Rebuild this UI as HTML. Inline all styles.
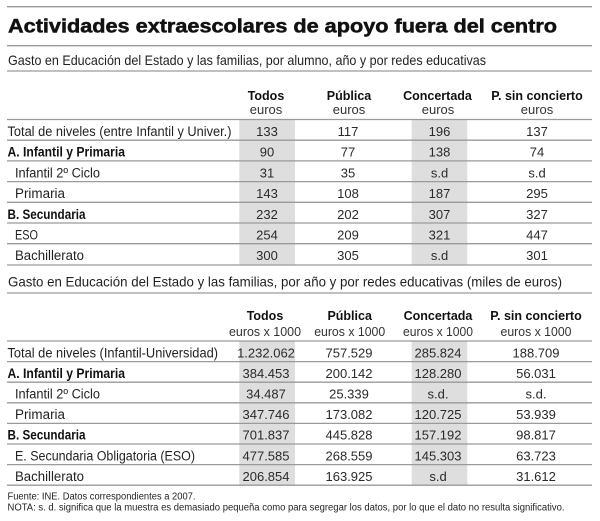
<!DOCTYPE html>
<html>
<head>
<meta charset="utf-8">
<style>
  html, body { margin: 0; padding: 0; background: #ffffff; }
  svg { display: block; }
  text { font-family: "Liberation Sans", "DejaVu Sans", sans-serif; fill: #231f20; }
  .title { font-size: 19px; font-weight: bold; fill: #111; stroke: #111; stroke-width: 0.5px; }
  .sub { font-size: 14px; }
  .hdr { font-size: 12.5px; font-weight: bold; text-anchor: middle; fill: #111; }
  .unit { font-size: 13px; text-anchor: middle; fill: #333; }
  .lab { font-size: 13.5px; }
  .labb { font-size: 13.5px; font-weight: bold; fill: #111; }
  .num { font-size: 13px; text-anchor: middle; fill: #2a2a2a; }
  .foot { font-size: 10px; }
  .ln { stroke: #9a9a9a; stroke-width: 1.3; }
  .shade { fill: #dedede; }
</style>
</head>
<body>
<svg width="600" height="521" viewBox="0 0 600 521" xmlns="http://www.w3.org/2000/svg">
  <rect width="600" height="521" fill="#fff"/>

  <!-- Title -->
  <line class="ln" x1="7" y1="6.7" x2="592" y2="6.7"/>
  <text class="title" x="8" y="32.5" textLength="549" lengthAdjust="spacingAndGlyphs">Actividades extraescolares de apoyo fuera del centro</text>
  <line class="ln" x1="7" y1="45.7" x2="592" y2="45.7"/>
  <text class="sub" x="8" y="65" textLength="478" lengthAdjust="spacingAndGlyphs">Gasto en Educación del Estado y las familias, por alumno, año y por redes educativas</text>
  <line class="ln" x1="7" y1="71" x2="592" y2="71"/>

  <!-- Table 1 header -->
  <text class="hdr" x="266" y="100">Todos</text>
  <text class="hdr" x="349" y="100">Pública</text>
  <text class="hdr" x="437.5" y="100">Concertada</text>
  <text class="hdr" x="537" y="100">P. sin concierto</text>
  <text class="unit" x="266" y="114">euros</text>
  <text class="unit" x="349" y="114">euros</text>
  <text class="unit" x="438" y="114">euros</text>
  <text class="unit" x="537" y="114">euros</text>

  <!-- Table 1 shading -->
  <rect class="shade" x="239.3" y="119.5" width="55.7" height="145"/>
  <rect class="shade" x="411.7" y="119.5" width="55.6" height="145"/>

  <!-- Table 1 lines -->
  <line class="ln" x1="7" y1="119.5" x2="592" y2="119.5"/>
  <line class="ln" x1="7" y1="140.2" x2="592" y2="140.2"/>
  <line class="ln" x1="7" y1="160.9" x2="592" y2="160.9"/>
  <line class="ln" x1="7" y1="181.6" x2="592" y2="181.6"/>
  <line class="ln" x1="7" y1="202.3" x2="592" y2="202.3"/>
  <line class="ln" x1="7" y1="223" x2="592" y2="223"/>
  <line class="ln" x1="7" y1="243.7" x2="592" y2="243.7"/>
  <line class="ln" x1="7" y1="265" x2="592" y2="265"/>

  <!-- Table 1 rows -->
  <text class="lab" x="7.5" y="136" textLength="224" lengthAdjust="spacingAndGlyphs">Total de niveles (entre Infantil y Univer.)</text>
  <text class="num" x="267" y="136">133</text><text class="num" x="348" y="136">117</text><text class="num" x="439.5" y="136">196</text><text class="num" x="537" y="136">137</text>

  <text class="labb" x="7.5" y="156.7" textLength="117.5" lengthAdjust="spacingAndGlyphs">A. Infantil y Primaria</text>
  <text class="num" x="267" y="156.7">90</text><text class="num" x="348" y="156.7">77</text><text class="num" x="439.5" y="156.7">138</text><text class="num" x="537" y="156.7">74</text>

  <text class="lab" x="15" y="177.4" textLength="85" lengthAdjust="spacingAndGlyphs">Infantil 2º Ciclo</text>
  <text class="num" x="267" y="177.4">31</text><text class="num" x="348" y="177.4">35</text><text class="num" x="439.5" y="177.4">s.d</text><text class="num" x="537" y="177.4">s.d</text>

  <text class="lab" x="15" y="198.1" textLength="50" lengthAdjust="spacingAndGlyphs">Primaria</text>
  <text class="num" x="267" y="198.1">143</text><text class="num" x="348" y="198.1">108</text><text class="num" x="439.5" y="198.1">187</text><text class="num" x="537" y="198.1">295</text>

  <text class="labb" x="7.5" y="218.8" textLength="78" lengthAdjust="spacingAndGlyphs">B. Secundaria</text>
  <text class="num" x="267" y="218.8">232</text><text class="num" x="348" y="218.8">202</text><text class="num" x="439.5" y="218.8">307</text><text class="num" x="537" y="218.8">327</text>

  <text class="lab" x="15" y="239.5" textLength="23" lengthAdjust="spacingAndGlyphs">ESO</text>
  <text class="num" x="267" y="239.5">254</text><text class="num" x="348" y="239.5">209</text><text class="num" x="439.5" y="239.5">321</text><text class="num" x="537" y="239.5">447</text>

  <text class="lab" x="15" y="260.2" textLength="69" lengthAdjust="spacingAndGlyphs">Bachillerato</text>
  <text class="num" x="267" y="260.2">300</text><text class="num" x="348" y="260.2">305</text><text class="num" x="439.5" y="260.2">s.d</text><text class="num" x="537" y="260.2">301</text>

  <!-- Subtitle 2 -->
  <text class="sub" x="8" y="286.5" textLength="554" lengthAdjust="spacingAndGlyphs">Gasto en Educación del Estado y las familias, por año y por redes educativas (miles de euros)</text>
  <line class="ln" x1="7" y1="293" x2="592" y2="293"/>

  <!-- Table 2 header -->
  <text class="hdr" x="265" y="320">Todos</text>
  <text class="hdr" x="349.7" y="320">Pública</text>
  <text class="hdr" x="438" y="320">Concertada</text>
  <text class="hdr" x="536" y="320">P. sin concierto</text>
  <text class="unit" x="265" y="336" textLength="72" lengthAdjust="spacingAndGlyphs">euros x 1000</text>
  <text class="unit" x="349.7" y="336" textLength="71" lengthAdjust="spacingAndGlyphs">euros x 1000</text>
  <text class="unit" x="438" y="336" textLength="70" lengthAdjust="spacingAndGlyphs">euros x 1000</text>
  <text class="unit" x="536" y="336" textLength="71" lengthAdjust="spacingAndGlyphs">euros x 1000</text>

  <!-- Table 2 shading -->
  <rect class="shade" x="239.3" y="341" width="55.7" height="144.2"/>
  <rect class="shade" x="411.7" y="341" width="55.6" height="144.2"/>

  <!-- Table 2 lines -->
  <line class="ln" x1="7" y1="341" x2="592" y2="341"/>
  <line class="ln" x1="7" y1="361.6" x2="592" y2="361.6"/>
  <line class="ln" x1="7" y1="382.2" x2="592" y2="382.2"/>
  <line class="ln" x1="7" y1="402.8" x2="592" y2="402.8"/>
  <line class="ln" x1="7" y1="423.4" x2="592" y2="423.4"/>
  <line class="ln" x1="7" y1="444" x2="592" y2="444"/>
  <line class="ln" x1="7" y1="464.6" x2="592" y2="464.6"/>
  <line class="ln" x1="7" y1="485.2" x2="592" y2="485.2"/>

  <!-- Table 2 rows -->
  <text class="lab" x="7.5" y="357.3" textLength="210.5" lengthAdjust="spacingAndGlyphs">Total de niveles (Infantil-Universidad)</text>
  <text class="num" x="266" y="357.3">1.232.062</text><text class="num" x="349" y="357.3">757.529</text><text class="num" x="438" y="357.3">285.824</text><text class="num" x="536" y="357.3">188.709</text>

  <text class="labb" x="7.5" y="377.9" textLength="117.5" lengthAdjust="spacingAndGlyphs">A. Infantil y Primaria</text>
  <text class="num" x="266" y="377.9">384.453</text><text class="num" x="349" y="377.9">200.142</text><text class="num" x="438" y="377.9">128.280</text><text class="num" x="536" y="377.9">56.031</text>

  <text class="lab" x="15" y="398.5" textLength="85" lengthAdjust="spacingAndGlyphs">Infantil 2º Ciclo</text>
  <text class="num" x="266" y="398.5">34.487</text><text class="num" x="349" y="398.5">25.339</text><text class="num" x="438" y="398.5">s.d.</text><text class="num" x="536" y="398.5">s.d.</text>

  <text class="lab" x="15" y="419.1" textLength="50" lengthAdjust="spacingAndGlyphs">Primaria</text>
  <text class="num" x="266" y="419.1">347.746</text><text class="num" x="349" y="419.1">173.082</text><text class="num" x="438" y="419.1">120.725</text><text class="num" x="536" y="419.1">53.939</text>

  <text class="labb" x="7.5" y="439.7" textLength="78" lengthAdjust="spacingAndGlyphs">B. Secundaria</text>
  <text class="num" x="266" y="439.7">701.837</text><text class="num" x="349" y="439.7">445.828</text><text class="num" x="438" y="439.7">157.192</text><text class="num" x="536" y="439.7">98.817</text>

  <text class="lab" x="15" y="460.3" textLength="180" lengthAdjust="spacingAndGlyphs">E. Secundaria Obligatoria (ESO)</text>
  <text class="num" x="266" y="460.3">477.585</text><text class="num" x="349" y="460.3">268.559</text><text class="num" x="438" y="460.3">145.303</text><text class="num" x="536" y="460.3">63.723</text>

  <text class="lab" x="15" y="480.9" textLength="69" lengthAdjust="spacingAndGlyphs">Bachillerato</text>
  <text class="num" x="266" y="480.9">206.854</text><text class="num" x="349" y="480.9">163.925</text><text class="num" x="438" y="480.9">s.d</text><text class="num" x="536" y="480.9">31.612</text>

  <!-- Footer -->
  <text class="foot" x="7.5" y="499.5" textLength="188" lengthAdjust="spacingAndGlyphs">Fuente: INE. Datos correspondientes a 2007.</text>
  <text class="foot" x="7.5" y="510.5" textLength="557" lengthAdjust="spacingAndGlyphs">NOTA: s. d. significa que la muestra es demasiado pequeña como para segregar los datos, por lo que el dato no resulta significativo.</text>
</svg>
</body>
</html>
